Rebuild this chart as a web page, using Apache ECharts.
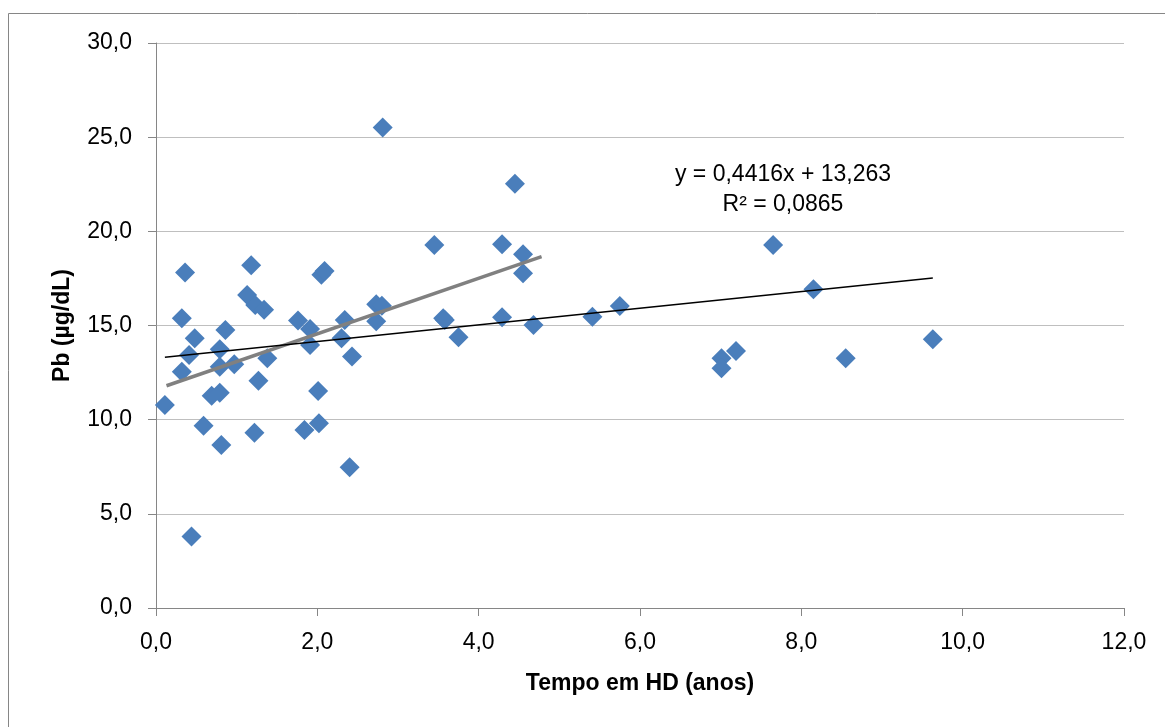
<!DOCTYPE html>
<html>
<head>
<meta charset="utf-8">
<script src="https://cdn.jsdelivr.net/npm/echarts@6/dist/echarts.min.js"></script>
<style>
html,body{margin:0;padding:0;background:#fff;}
#chart{width:1165px;height:727px;}
</style>
</head>
<body>
<div id="chart"></div>
<script>
// Tempo em HD (anos)
const tempoHD = [0.11,0.32,0.32,0.36,0.41,0.48,0.44,0.59,0.69,0.79,0.79,0.79,0.81,0.86,0.97,1.18,1.13,1.23,1.34,1.22,1.27,1.38,1.76,1.91,1.91,1.84,2.01,2.02,2.05,2.09,2.34,2.30,2.43,2.40,2.73,2.80,2.73,2.81,3.45,3.56,3.58,3.75,4.29,4.29,4.45,4.55,4.55,4.68,5.41,5.75,7.01,7.01,7.19,7.65,8.15,8.55,9.63];
// Pb (µg/dL)
const pb = [10.78,15.38,12.55,17.81,13.44,14.32,3.79,9.68,11.27,13.74,12.81,11.43,8.66,14.76,12.94,18.2,16.62,16.09,15.83,9.31,12.07,13.26,15.26,14.82,13.97,9.45,11.52,9.81,17.7,17.9,15.29,14.32,13.35,7.47,16.13,16.05,15.23,25.51,19.28,15.38,15.29,14.38,19.31,15.44,22.52,18.78,17.77,15.03,15.47,16.04,13.26,12.73,13.65,19.28,16.92,13.26,14.27];
// Linear trend line (all points), endpoints
const trendAllX = [0.11, 9.63];
const trendAllY = [13.31, 17.52];
// Grey trend line (subset), endpoints
const trendSubX = [0.13, 4.78];
const trendSubY = [11.8, 18.66];
const equationText = 'y = 0,4416x + 13,263';
const r2Text = 'R² = 0,0865';
const xTicks = {min: 0, max: 12, interval: 2};
const yTicks = {min: 0, max: 30, interval: 5};

const FONT = '"Liberation Sans", Arial, sans-serif';
const fmt = v => v.toFixed(1).replace('.', ',');

const chart = echarts.init(document.getElementById('chart'), null, {renderer: 'canvas'});
chart.setOption({
  animation: false,
  backgroundColor: '#ffffff',
  grid: {left: 156, right: 41, top: 43, bottom: 119, containLabel: false},
  xAxis: {
    type: 'value', min: xTicks.min, max: xTicks.max, interval: xTicks.interval,
    name: 'Tempo em HD (anos)', nameLocation: 'middle', nameGap: 64,
    nameTextStyle: {fontFamily: FONT, fontSize: 23, fontWeight: 'bold', color: '#000'},
    axisLine: {show: true, onZero: false, lineStyle: {color: '#868686', width: 1}},
    axisTick: {show: true, inside: false, length: 8, lineStyle: {color: '#868686'}},
    axisLabel: {fontFamily: FONT, fontSize: 23, color: '#000', margin: 23, formatter: fmt},
    splitLine: {show: false}
  },
  yAxis: {
    type: 'value', min: yTicks.min, max: yTicks.max, interval: yTicks.interval,
    name: 'Pb (µg/dL)', nameLocation: 'middle', nameGap: 82, nameRotate: 90,
    nameTextStyle: {fontFamily: FONT, fontSize: 23, fontWeight: 'bold', color: '#000'},
    axisLine: {show: true, onZero: false, lineStyle: {color: '#868686', width: 1}},
    axisTick: {show: true, inside: false, length: 8, lineStyle: {color: '#868686'}},
    axisLabel: {fontFamily: FONT, fontSize: 23, color: '#000', margin: 24, formatter: fmt},
    splitLine: {show: true, lineStyle: {color: '#BFBFBF', width: 1}}
  },
  series: [
    {
      type: 'scatter', symbol: 'diamond', symbolSize: 20,
      itemStyle: {color: '#4A7EBB', opacity: 1},
      data: tempoHD.map((x, i) => [x, pb[i]]),
      z: 2
    },
    {
      type: 'line', showSymbol: false, symbol: 'none',
      lineStyle: {color: '#000000', width: 1.5},
      data: trendAllX.map((x, i) => [x, trendAllY[i]]),
      z: 4, silent: true
    },
    {
      type: 'line', showSymbol: false, symbol: 'none',
      lineStyle: {color: '#808080', width: 3.5},
      data: trendSubX.map((x, i) => [x, trendSubY[i]]),
      z: 3, silent: true
    }
  ],
  graphic: [
    {type: 'rect', shape: {x: 8.5, y: 13.5, width: 1170, height: 730}, style: {fill: 'none', stroke: '#868686', lineWidth: 1}, silent: true},
    {type: 'text', x: 783, y: 175, style: {text: equationText, font: '23px ' + FONT, fill: '#000', textAlign: 'center', textVerticalAlign: 'middle'}},
    {type: 'text', x: 783, y: 205, style: {text: r2Text, font: '23px ' + FONT, fill: '#000', textAlign: 'center', textVerticalAlign: 'middle'}}
  ]
});
</script>
</body>
</html>
